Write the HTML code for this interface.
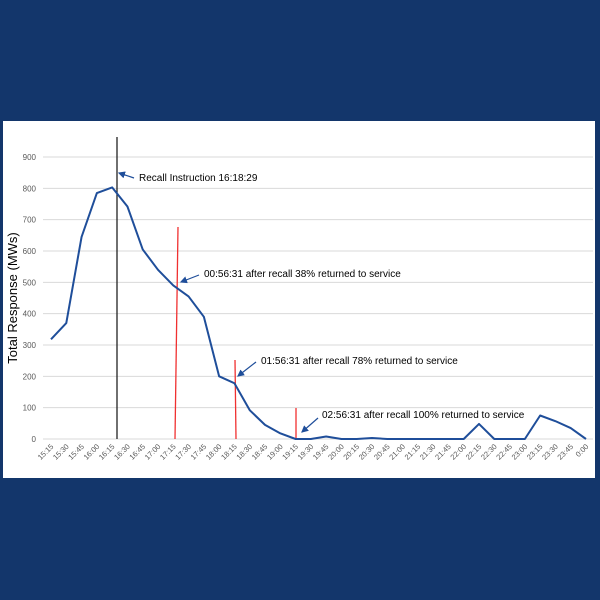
<!DOCTYPE html>
<html><head><meta charset="utf-8"><style>
body{margin:0;background:#13366b;width:600px;height:600px;overflow:hidden}
svg{position:absolute;left:0;top:0;font-family:"Liberation Sans",sans-serif}
</style></head><body>
<svg width="600" height="600">
<defs><marker id="ah" markerWidth="6" markerHeight="6" refX="5" refY="3" orient="auto"><path d="M0,0L6,3L0,6z" fill="#1f4e9a"/></marker></defs>
<rect x="3" y="121" width="592" height="357" fill="#fff"/>
<g id="grid"></g><g id="xl"></g>
<text transform="translate(17,298) rotate(-90)" text-anchor="middle" font-size="13" fill="#000">Total Response (MWs)</text>
<line x1="117" y1="137" x2="117" y2="439" stroke="#222" stroke-width="1.3"/>
<line x1="178" y1="227" x2="175" y2="439" stroke="#f03030" stroke-width="1.3"/>
<line x1="235" y1="360" x2="236" y2="439" stroke="#f03030" stroke-width="1.3"/>
<line x1="296" y1="408" x2="296" y2="439" stroke="#f03030" stroke-width="1.3"/>
<path id="series" fill="none" stroke="#1f4e9a" stroke-width="2" stroke-linejoin="round"/>
<g font-size="10" fill="#000" stroke="#1f4e9a" stroke-width="1.2">
<line x1="134" y1="178" x2="119" y2="173" marker-end="url(#ah)"/>
<text x="139" y="181" stroke="none">Recall Instruction 16:18:29</text>
<line x1="199" y1="275" x2="181" y2="282" marker-end="url(#ah)"/>
<text x="204" y="277" stroke="none">00:56:31 after recall 38% returned to service</text>
<line x1="256" y1="362" x2="238" y2="376" marker-end="url(#ah)"/>
<text x="261" y="364" stroke="none">01:56:31 after recall 78% returned to service</text>
<line x1="318" y1="418" x2="302" y2="432" marker-end="url(#ah)"/>
<text x="322" y="418" stroke="none">02:56:31 after recall 100% returned to service</text>
</g>
</svg>
<script>
const categories=["15:15","15:30","15:45","16:00","16:15","16:30","16:45","17:00","17:15","17:30","17:45","18:00","18:15","18:30","18:45","19:00","19:15","19:30","19:45","20:00","20:15","20:30","20:45","21:00","21:15","21:30","21:45","22:00","22:15","22:30","22:45","23:00","23:15","23:30","23:45","0:00"];
const values=[318,370,645,785,803,742,605,540,490,455,390,200,178,92,45,18,0,0,8,0,0,3,0,0,0,0,0,0,48,0,0,0,75,57,35,0];
const yTicks=[0,100,200,300,400,500,600,700,800,900];
const NS="http://www.w3.org/2000/svg";
const x=i=>51+i*(535/(categories.length-1));
const y=v=>439-v*(282/900);
const grid=document.getElementById('grid');
yTicks.forEach(t=>{
 const l=document.createElementNS(NS,'line');
 l.setAttribute('x1',43);l.setAttribute('x2',593);l.setAttribute('y1',y(t));l.setAttribute('y2',y(t));
 l.setAttribute('stroke','#d9d9d9');l.setAttribute('stroke-width','1');
 
 
 grid.appendChild(l);
 const tx=document.createElementNS(NS,'text');
 tx.setAttribute('x',36);tx.setAttribute('y',y(t)+3);tx.setAttribute('text-anchor','end');
 tx.setAttribute('font-size','8');tx.setAttribute('fill','#595959');tx.textContent=t;
 
 
 grid.appendChild(tx);
});
const xl=document.getElementById('xl');
categories.forEach((c,i)=>{
 const tx=document.createElementNS(NS,'text');
 tx.setAttribute('transform',`translate(${x(i)+3},${447}) rotate(-45)`);
 tx.setAttribute('text-anchor','end');tx.setAttribute('font-size','7.5');tx.setAttribute('fill','#595959');
 tx.textContent=c;
 
 
 xl.appendChild(tx);
});
document.getElementById('series').setAttribute('d',values.map((v,i)=>(i?'L':'M')+x(i)+','+y(v)).join(''));
</script>
</body></html>
